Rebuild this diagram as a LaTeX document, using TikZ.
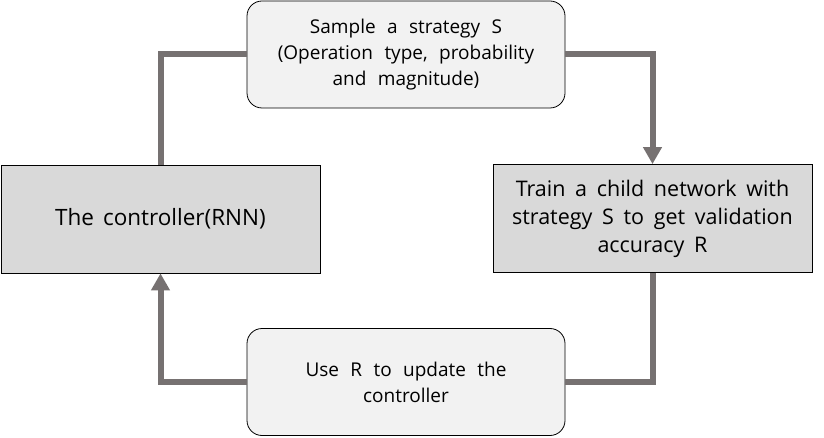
\documentclass[tikz,border=0pt]{standalone}
\usepackage{fontspec}
\setmainfont{Open Sans}
\usetikzlibrary{arrows.meta}
\definecolor{boxlight}{HTML}{F2F2F2}
\definecolor{boxdark}{HTML}{D9D9D9}
\definecolor{flowgray}{HTML}{767171}
\def\roundboxfont{\fontsize{19}{26}\selectfont\spaceskip=0.6em\relax}
\def\squareboxfont{\fontsize{21.5}{28}\selectfont\spaceskip=0.45em\relax}
\def\controllerfont{\fontsize{22.5}{28}\selectfont\spaceskip=0.4em\relax}
\tikzset{
	roundbox/.style={draw=black, fill=boxlight, rounded corners=15pt, minimum width=318pt, minimum height=107pt, align=center, line width=0.8pt, inner sep=0pt, font=\roundboxfont},
	squarebox/.style={draw=black, fill=boxdark, minimum width=319pt, minimum height=108pt, align=center, line width=0.8pt, inner sep=0pt, font=\squareboxfont},
	flow/.style={draw=flowgray, line width=6pt},
	flowarrow/.style={flow, -{Triangle[width=18pt,length=17pt]}}
}

\begin{document}
\begin{tikzpicture}[x=1pt,y=-1pt]
			%%%%% START %%%%%
			
			\useasboundingbox (0,0) rectangle (824,438);
			
			\node[roundbox] (sample) at (406,54.5) {Sample a strategy S\\(Operation type, probability\\and magnitude)};
			\node[squarebox, font=\controllerfont] (controller) at (160.5,219) {The controller(RNN)};
			\node[squarebox] (train) at (652.5,218.5) {Train a child network with\\strategy S to get validation\\accuracy R};
			\node[roundbox] (update) at (406,382) {Use R to update the\\controller};
			
			\draw[flow] (sample.west) -| (controller.north);
			\draw[flowarrow] (sample.east) -| (train.north);
			\draw[flow] (train.south) |- (update.east);
			\draw[flowarrow] (update.west) -| (controller.south);
			
			%%%%% END %%%%%
\end{tikzpicture}
\end{document}
